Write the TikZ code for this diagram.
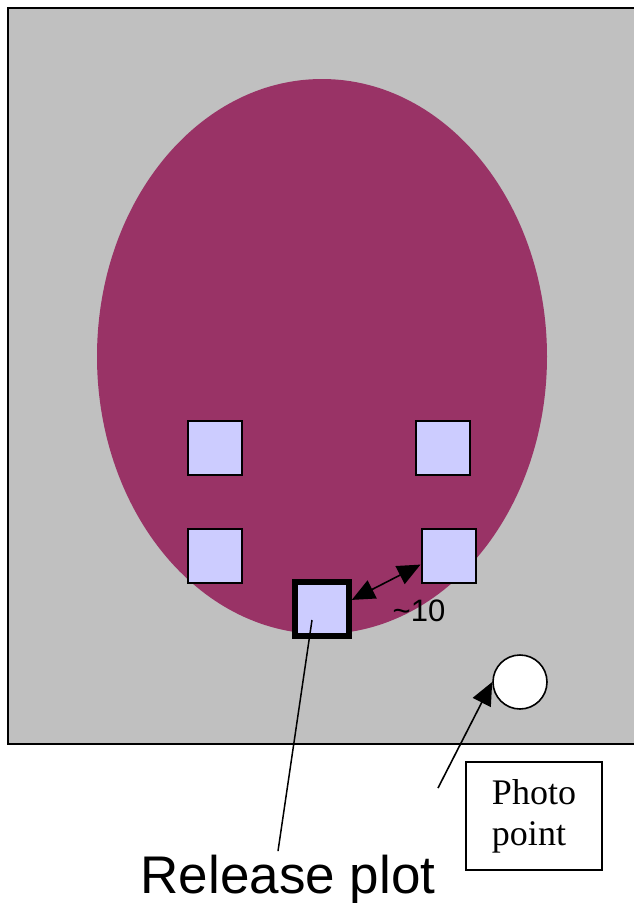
\documentclass[tikz,border=0pt]{standalone}
\usepackage{fontspec}
\setmainfont{Liberation Serif}
\newfontfamily\arialfont{Liberation Sans}
\usepackage{xcolor}
\definecolor{fieldgrey}{RGB}{192,192,192}
\definecolor{patchred}{RGB}{153,51,102}
\definecolor{plotblue}{RGB}{204,204,255}
\usetikzlibrary{arrows.meta}

\begin{document}
\begin{tikzpicture}[x=1pt, y=-1pt,
    plotsq/.style={draw, line width=2pt, fill=plotblue, minimum size=54pt, inner sep=0pt},
    tip/.style={-{Triangle[length=23pt, width=20pt]}, line width=1.6pt}]
    \useasboundingbox (0,0) rectangle (633,903);

    % field and patch
    \draw[line width=2.2pt, fill=fieldgrey] (8,8) rectangle (650,744);
    \fill[patchred] (322,356.5) ellipse [x radius=225, y radius=277.5];

    % plots
    \node[plotsq] (sqa) at (214.5,448) {};
    \node[plotsq] (sqb) at (442.5,448) {};
    \node[plotsq] (sqc) at (214.5,555.5) {};
    \node[plotsq] (sqd) at (448.5,555.5) {};
    \node[plotsq, line width=5.5pt, minimum size=54pt] (relsq) at (322,609) {};

    % distance between plots
    \draw[tip, {Triangle[length=23pt, width=20pt]}-{Triangle[length=23pt, width=20pt]}] (relsq.17) -- (sqd.198);
    \node[font=\arialfont\fontsize{31}{34}\selectfont] (dist) at (419,611) {\textasciitilde10};

    % photo point
    \node[draw, line width=1.6pt, fill=white, circle, minimum size=54pt, inner sep=0pt] (photo) at (520,682) {};
    \node[draw, line width=1.5pt, fill=white, minimum width=136pt, minimum height=108pt, align=left,
        font=\fontsize{36}{41}\selectfont] (photobox) at (534,816) {Photo\\point};
    \coordinate (photopin) at (438,788);
    \draw[tip] (photopin) -- (photo.west);

    % release plot label
    \node[font=\arialfont\fontsize{53}{60}\selectfont, anchor=base] (rellabel) at (288,893) {Release plot};
    \coordinate (relpin) at (312,620);
    \draw[line width=1.5pt] (rellabel.north) ++(-10pt,0) -- (relpin);
\end{tikzpicture}
\end{document}
